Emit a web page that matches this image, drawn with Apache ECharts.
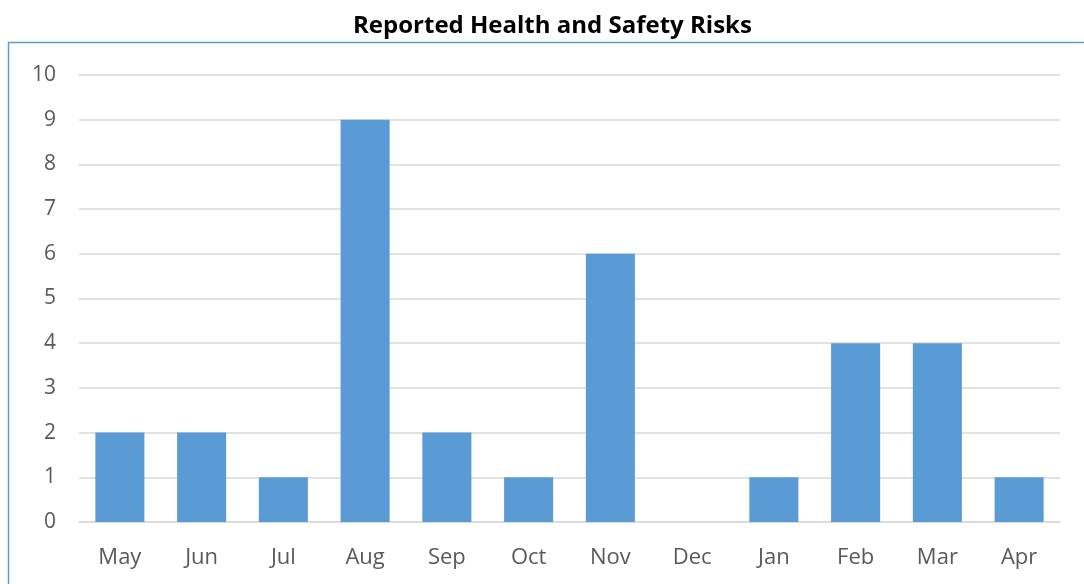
<!DOCTYPE html>
<html>
<head>
<meta charset="utf-8">
<script src="https://cdn.jsdelivr.net/npm/echarts@6/dist/echarts.min.js"></script>
<style>
  html, body { margin: 0; padding: 0; background: #fff; }
  #main { width: 1084px; height: 584px; }
</style>
</head>
<body>
<div id="main"></div>
<script>
const months = ["May", "Jun", "Jul", "Aug", "Sep", "Oct", "Nov", "Dec", "Jan", "Feb", "Mar", "Apr"];
const risks = [2, 2, 1, 9, 2, 1, 6, 0, 1, 4, 4, 1];
const yTicks = [0, 10, 1]; // min, max, step

const chart = echarts.init(document.getElementById("main"));

const option = {
  animation: false,
  title: {
    text: "Reported Health and Safety Risks",
    left: 348,
    top: 9,
    textStyle: {
      fontFamily: "Open Sans",
      fontWeight: "bold",
      fontSize: 24,
      color: "#000",
    },
  },
  graphic: [
    {
      type: "rect",
      shape: { x: 8.5, y: 42.5, width: 1100, height: 600 },
      style: { fill: "none", stroke: "#5b9bd5", lineWidth: 1.5 },
      silent: true,
    },
  ],
  grid: {
    left: 79,
    right: 24,
    top: 75,
    bottom: 62,
  },
  xAxis: {
    type: "category",
    data: months,
    axisLine: { show: true, lineStyle: { color: "#d9d9d9", width: 1.5 } },
    axisTick: { show: false },
    axisLabel: {
      color: "#595959",
      fontSize: 22,
      fontFamily: "Open Sans",
      margin: 25,
    },
  },
  yAxis: {
    type: "value",
    min: yTicks[0],
    max: yTicks[1],
    interval: yTicks[2],
    axisLine: { show: false },
    axisTick: { show: false },
    splitLine: { lineStyle: { color: "#d9d9d9", width: 1.5 } },
    axisLabel: {
      color: "#595959",
      fontSize: 21,
      fontFamily: "Open Sans",
      margin: 23,
    },
  },
  series: [
    {
      type: "bar",
      data: risks,
      barWidth: "60%",
      itemStyle: { color: "#5b9bd5" },
    },
  ],
};

chart.setOption(option);
</script>
</body>
</html>
